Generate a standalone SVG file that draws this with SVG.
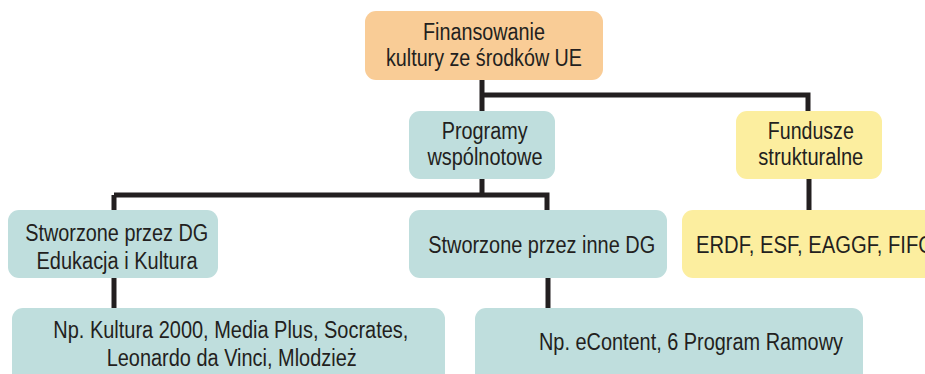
<svg xmlns="http://www.w3.org/2000/svg" width="925" height="374" viewBox="0 0 925 374">
<style>
text{font-family:"Liberation Sans",Arial,sans-serif;font-size:23.5px;fill:#231f20;text-anchor:middle}
.c{stroke:#231f20;stroke-width:5;fill:none}
.peach{fill:#f9cc96}
.teal{fill:#bfdedd}
.yel{fill:#fcee9f}
</style>
<rect width="925" height="374" fill="#fff"/>
<g id="connectors">
<path class="c" d="M482 80V111M482 95H808V111"/>
<path class="c" d="M482 179V195M114 195H547V210M114 195V210"/>
<path class="c" d="M809 179V210"/>
<path class="c" d="M114 278V308"/>
<path class="c" d="M548 278V308"/>
</g>
<g id="n1"><rect class="peach" x="365" y="11" width="238" height="69" rx="11"/><text x="484" y="40" textLength="122" lengthAdjust="spacingAndGlyphs">Finansowanie</text><text x="484" y="66" textLength="196" lengthAdjust="spacingAndGlyphs">kultury ze środków UE</text></g>
<g id="n2"><rect class="teal" x="409" y="111" width="146" height="68" rx="11"/><text x="484.7" y="139" textLength="86" lengthAdjust="spacingAndGlyphs">Programy</text><text x="485" y="165" textLength="115" lengthAdjust="spacingAndGlyphs">wspólnotowe</text></g>
<g id="n3"><rect class="yel" x="736" y="111" width="146" height="68" rx="11"/><text x="810.8" y="139" textLength="86" lengthAdjust="spacingAndGlyphs">Fundusze</text><text x="810.8" y="165" textLength="105" lengthAdjust="spacingAndGlyphs">strukturalne</text></g>
<g id="n4"><rect class="teal" x="8" y="210" width="210" height="68" rx="11"/><text x="116.7" y="241" textLength="183" lengthAdjust="spacingAndGlyphs">Stworzone przez DG</text><text x="117" y="269" textLength="161" lengthAdjust="spacingAndGlyphs">Edukacja i Kultura</text></g>
<g id="n5"><rect class="teal" x="409" y="210" width="258" height="68" rx="11"/><text x="541.7" y="253" textLength="227" lengthAdjust="spacingAndGlyphs">Stworzone przez inne DG</text></g>
<g id="n6"><rect class="yel" x="682" y="210" width="260" height="68" rx="11"/><text x="696" y="253" style="text-anchor:start" textLength="238" lengthAdjust="spacingAndGlyphs">ERDF, ESF, EAGGF, FIFG</text></g>
<g id="n7"><rect class="teal" x="12" y="308" width="433" height="80" rx="11"/><text x="230.8" y="338" textLength="355" lengthAdjust="spacingAndGlyphs">Np. Kultura 2000, Media Plus, Socrates,</text><text x="231.7" y="366" textLength="250" lengthAdjust="spacingAndGlyphs">Leonardo da Vinci, Mlodzież</text></g>
<g id="n8"><rect class="teal" x="475" y="308" width="388" height="80" rx="11"/><text x="691" y="350" textLength="304" lengthAdjust="spacingAndGlyphs">Np. eContent, 6 Program Ramowy</text></g>
</svg>
